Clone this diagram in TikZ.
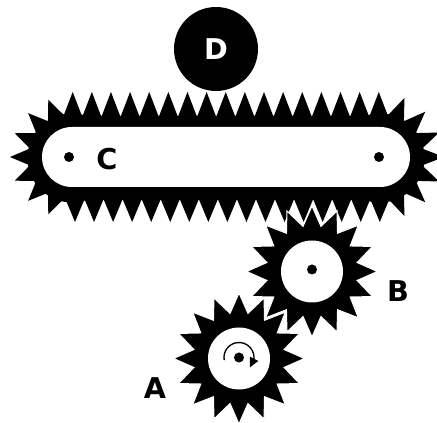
\documentclass[tikz,border=0pt]{standalone}
\usepackage{fontspec}
\setmainfont{DejaVu Sans}
\usetikzlibrary{arrows.meta}
\begin{document}
\begin{tikzpicture}[x=0.75pt,y=0.75pt,
  letter/.style={font=\bfseries\fontsize{21.5}{22}\selectfont,inner sep=0pt},
  pin/.style={circle,fill=black,inner sep=0pt,minimum size=10pt*0.75},
  gear/.pic={
    \filldraw[fill=black,draw=white,line width=0.8pt,line join=miter]
      plot[samples at={0,11.25,...,348.75}] (\x:{(mod(\x,22.5)<1)?65.5:46}) -- cycle;
    \fill[white] (0,0) circle (31);
  }]
\useasboundingbox (0,0) rectangle (437,423);
\clip (0,0) rectangle (437,423);
% rack
\fill[rounded corners=42pt*0.75] (30,223) rectangle (422,307);
\fill (72,265) circle (44.5) (380,265) circle (44.5);
\foreach \x in {0,...,16}
  \fill ({72.7+19.13*\x-9.6},306) -- ({72.7+19.13*\x},331) -- ({72.7+19.13*\x+9.6},306) -- cycle;
\foreach \x in {0,...,16}
  \fill ({75+19.05*\x-9.6},224) -- ({75+19.05*\x},201) -- ({75+19.05*\x+9.6},224) -- cycle;
\foreach \a in {112.5,135,157.5,180,202.5,225,247.5}
  \fill ([shift={(72,266)}]\a-11.25:43) -- ([shift={(72,266)}]\a:62) -- ([shift={(72,266)}]\a+11.25:43) -- cycle;
\foreach \a in {-67.5,-45,-22.5,0,22.5,45,67.5}
  \fill ([shift={(380,266)}]\a-11.25:43) -- ([shift={(380,266)}]\a:64) -- ([shift={(380,266)}]\a+11.25:43) -- cycle;
\fill[white,rounded corners=30pt*0.75] (42,236) rectangle (410,296);
\node[pin] (cl) at (69,266) {};
\node[pin] (cr) at (379,266) {};
\node[letter] (c) at (107,264) {C};
% drum
\node[circle,fill=black,minimum size=84pt*0.75,inner sep=0pt,text=white,letter] (d) at (216,374) {D};
% gears
\pic (ga) at (239,64.5) {gear};
\pic (gb) at (312,151.5) {gear};
\node[pin] (pa) at (239,65.5) {};
\node[pin] (pb) at (312,153.5) {};
\draw[line width=1pt] (239,65.5) ++(190:15) arc[start angle=190,end angle=-10,radius=15];
\fill (250,66.3) -- (258.3,62) -- (250,55.7) -- cycle;
\node[letter] (a) at (155,35) {A};
\node[letter] (b) at (398,132) {B};
\end{tikzpicture}
\end{document}
